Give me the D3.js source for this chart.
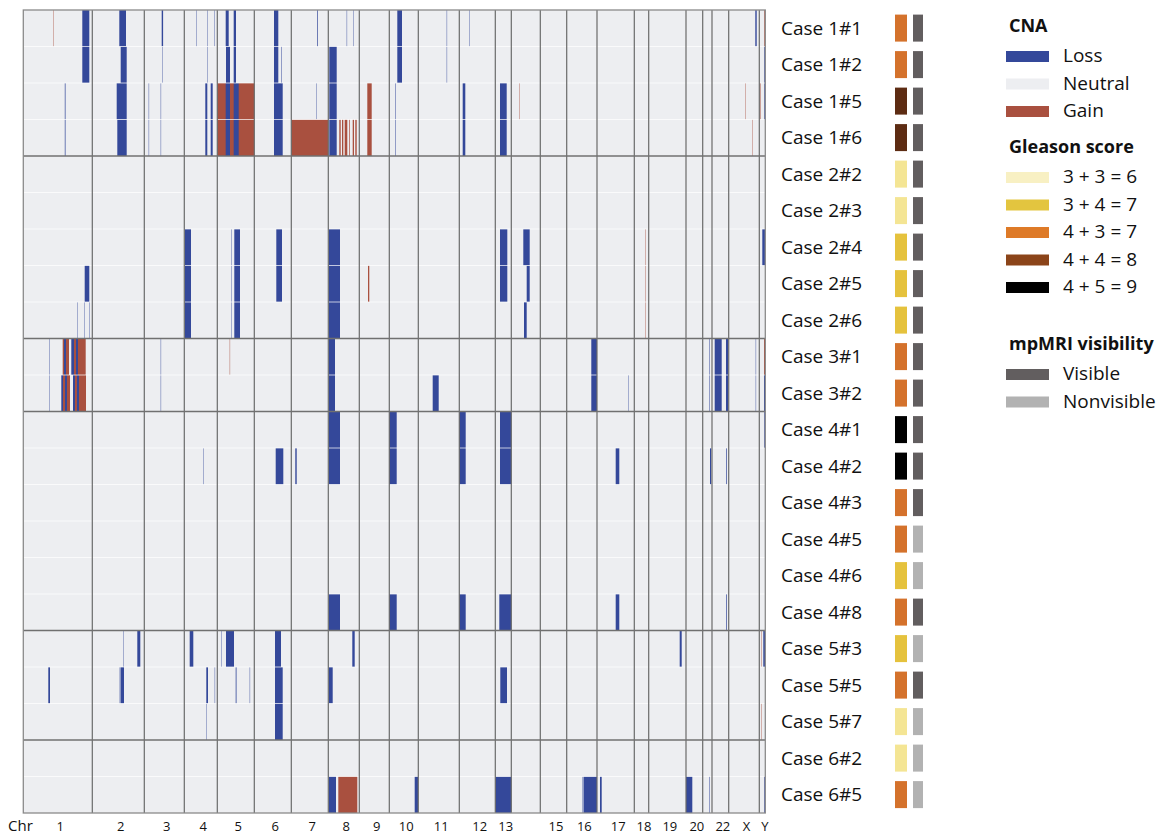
<!DOCTYPE html>
<html>
<head>
<meta charset="utf-8">
<script src="https://cdn.jsdelivr.net/npm/d3@7"></script>
<style>
  body { margin: 0; background: #fff; }
  text { font-family: "Open Sans", sans-serif; fill: #111; }
</style>
</head>
<body>
<div id="chart"></div>
<script>
// ---- data ----
const cases = ["Case 1#1", "Case 1#2", "Case 1#5", "Case 1#6",
  "Case 2#2", "Case 2#3", "Case 2#4", "Case 2#5", "Case 2#6",
  "Case 3#1", "Case 3#2",
  "Case 4#1", "Case 4#2", "Case 4#3", "Case 4#5", "Case 4#6", "Case 4#8",
  "Case 5#3", "Case 5#5", "Case 5#7",
  "Case 6#2", "Case 6#5"];
const gleason = ["4+3", "4+3", "4+4", "4+4",
  "3+3", "3+3", "3+4", "3+4", "3+4",
  "4+3", "4+3",
  "4+5", "4+5", "4+3", "4+3", "3+4", "4+3",
  "3+4", "4+3", "3+3",
  "3+3", "4+3"];
const mri = ["Visible", "Visible", "Visible", "Visible",
  "Visible", "Visible", "Visible", "Visible", "Visible",
  "Visible", "Visible",
  "Visible", "Visible", "Visible", "Nonvisible", "Nonvisible", "Visible",
  "Nonvisible", "Visible", "Nonvisible",
  "Nonvisible", "Nonvisible"];

const chromosomes = ["1", "2", "3", "4", "5", "6", "7", "8", "9", "10", "11", "12",
  "13", "14", "15", "16", "17", "18", "19", "20", "21", "22", "X", "Y"];
const chrLengths = [69, 52, 40, 33, 37, 37, 37, 31, 30, 29, 41, 36,
  16, 29, 26.4, 30.3, 37.3, 14.4, 37.3, 16.7, 9.3, 16.7, 30.6, 6];
const chrHidden = ["14", "21"];

// [first row, last row, chromosome, start, end, call]  (L = loss, G = gain)
const segments = [
  [0, 0, "1", 30, 30.4, "G"], [0, 1, "1", 59, 66, "L"],
  [0, 0, "2", 27, 33.7, "L"], [1, 1, "2", 28.4, 34.4, "L"],
  [0, 0, "3", 17.4, 18.8, "L"], [1, 1, "3", 17.7, 18.1, "L"],
  [0, 0, "4", 11.7, 12.1, "L"], [0, 1, "4", 23, 23.4, "L"], [0, 0, "4", 29.7, 30.1, "L"],
  [0, 0, "5", 8.4, 11.4, "L"], [1, 1, "5", 8.7, 12.7, "L"], [0, 1, "5", 16.4, 18.7, "L"],
  [0, 1, "6", 19.7, 24, "L"], [1, 1, "6", 27.2, 27.7, "L"],
  [0, 0, "7", 26, 26.7, "L"],
  [0, 0, "8", 18.4, 18.8, "L"], [0, 0, "8", 25, 25.4, "L"], [1, 3, "8", 1, 8.4, "L"],
  [0, 1, "10", 8, 12.7, "L"], [0, 1, "11", 28.4, 28.8, "L"], [0, 0, "12", 10, 10.4, "L"],
  [0, 0, "X", 26.6, 28, "L"], [0, 0, "Y", 5, 6, "G"], [1, 2, "Y", 5, 6, "L"],

  [2, 3, "1", 41.5, 42.2, "L"], [2, 2, "2", 24.4, 34.4, "L"], [3, 3, "2", 25, 34.4, "L"],
  [2, 3, "3", 4.4, 4.8, "L"], [2, 3, "3", 16.4, 16.8, "L"],
  [2, 3, "4", 21, 23, "L"], [2, 3, "4", 26.4, 28.4, "L"],
  [2, 3, "5", 0, 37, "G"], [2, 3, "5", 8.4, 12.7, "L"], [2, 3, "5", 16.4, 21.4, "L"],
  [2, 3, "6", 19.7, 28.4, "L"], [2, 2, "7", 25.2, 25.6, "L"], [3, 3, "7", 0, 37, "G"],
  [3, 3, "8", 11, 12.4, "G"], [3, 3, "8", 13.7, 15, "G"], [3, 3, "8", 16.4, 19, "G"],
  [3, 3, "8", 21, 21.7, "G"], [3, 3, "8", 24.4, 25.7, "G"], [3, 3, "8", 27, 28.4, "G"],
  [2, 3, "9", 8, 12.4, "G"], [2, 3, "10", 6, 6.5, "L"], [2, 3, "12", 3.4, 6, "L"],
  [2, 3, "13", 4.7, 11.4, "L"], [2, 2, "14", 8, 8.4, "G"],
  [2, 2, "X", 16.6, 17, "G"], [3, 3, "X", 23.3, 23.7, "G"], [2, 2, "Y", 0.5, 1.2, "G"],

  [7, 7, "1", 61.4, 66, "L"], [8, 8, "1", 54, 54.4, "L"], [8, 8, "1", 60.7, 61.1, "L"],
  [8, 8, "1", 66, 66.4, "L"],
  [6, 8, "4", 0.7, 6.7, "L"], [6, 8, "5", 14, 14.4, "L"], [6, 8, "5", 17, 22.7, "L"],
  [6, 7, "6", 22, 27.7, "L"], [6, 8, "8", 0.7, 11.7, "L"], [7, 7, "9", 8.7, 10, "G"],
  [6, 7, "13", 4.7, 12, "L"], [6, 6, "14", 12, 18.4, "L"], [7, 7, "14", 15.4, 18.4, "L"],
  [8, 8, "14", 12.7, 15.4, "L"], [6, 8, "18", 11, 11.4, "G"], [6, 6, "Y", 3, 6, "L"],

  [9, 10, "1", 25.7, 26.1, "L"],
  [9, 9, "1", 39.4, 40.7, "G"], [9, 9, "1", 40.7, 42.7, "L"], [9, 9, "1", 42.7, 45.7, "G"],
  [9, 9, "1", 48, 50.7, "L"], [9, 9, "1", 50.7, 52.7, "G"], [9, 9, "1", 52.7, 54.7, "L"],
  [9, 9, "1", 54.7, 62.4, "G"],
  [10, 10, "1", 38, 39.7, "L"], [10, 10, "1", 39.7, 41.7, "G"], [10, 10, "1", 41.7, 43.7, "L"],
  [10, 10, "1", 43.7, 46.7, "G"], [10, 10, "1", 49.7, 51.7, "L"], [10, 10, "1", 51.7, 53.7, "G"],
  [10, 10, "1", 53.7, 55.7, "L"], [10, 10, "1", 55.7, 62.7, "G"],
  [9, 10, "3", 16.4, 16.8, "L"], [9, 9, "5", 12.4, 12.8, "G"], [9, 10, "8", 0.7, 6.7, "L"],
  [10, 10, "11", 14.4, 20.4, "L"], [9, 10, "16", 24.6, 30.3, "L"], [10, 10, "17", 31.3, 31.7, "L"],
  [9, 10, "21", 6.4, 6.9, "L"], [9, 10, "22", 2.7, 9.7, "L"], [9, 10, "22", 14, 16, "L"],
  [9, 10, "X", 27, 27.4, "L"], [9, 9, "Y", 4.7, 6, "G"], [10, 10, "Y", 4.7, 6, "L"],

  [11, 12, "8", 0.7, 11.7, "L"], [16, 16, "8", 0.7, 11.7, "L"],
  [11, 12, "10", 0, 7.4, "L"], [16, 16, "10", 0, 7.4, "L"],
  [11, 12, "12", 0, 6.4, "L"], [16, 16, "12", 0, 6.4, "L"],
  [11, 12, "13", 4.7, 16, "L"], [16, 16, "13", 4, 16, "L"], [11, 11, "Y", 5, 6, "L"],
  [12, 12, "4", 19, 19.4, "L"], [12, 12, "6", 21.4, 29, "L"], [12, 12, "7", 4, 5.4, "L"],
  [12, 12, "17", 18.7, 22.3, "L"], [16, 16, "17", 18.7, 22.3, "L"],
  [12, 12, "21", 7.3, 8.5, "L"], [12, 12, "22", 14, 14.7, "L"], [16, 16, "22", 14, 14.7, "L"],

  [17, 17, "2", 31, 31.4, "L"], [17, 17, "2", 45, 48, "L"], [17, 17, "4", 5.4, 9, "L"],
  [17, 17, "5", 4, 4.4, "L"], [17, 17, "5", 8.7, 16.7, "L"], [17, 17, "6", 20.7, 26.7, "L"],
  [18, 19, "6", 20.7, 28.4, "L"], [17, 17, "8", 24, 26.4, "L"], [17, 17, "19", 31, 33, "L"],
  [17, 17, "Y", 2, 2.4, "G"], [19, 19, "Y", 2, 2.4, "G"], [17, 17, "Y", 4, 6, "L"],
  [18, 18, "1", 25, 26.7, "L"], [18, 18, "2", 27.4, 28, "L"], [18, 18, "2", 28.4, 31.7, "L"],
  [18, 18, "4", 22, 23.7, "L"], [18, 18, "4", 30.4, 30.8, "L"], [18, 18, "5", 18.4, 19.2, "L"],
  [18, 18, "5", 32.4, 32.8, "L"], [18, 18, "8", 0.7, 4.4, "L"], [18, 18, "13", 5, 11.7, "L"],
  [19, 19, "4", 22, 22.4, "L"],

  [21, 21, "8", 0.7, 7.7, "L"], [21, 21, "8", 10, 29, "G"], [21, 21, "10", 25.4, 28.7, "L"],
  [21, 21, "13", 0, 16, "L"], [21, 21, "16", 15.5, 15.9, "L"], [21, 21, "16", 16.8, 30.3, "L"],
  [21, 21, "17", 3, 4.7, "L"], [21, 21, "20", 0, 6.3, "L"], [21, 21, "21", 6.4, 6.9, "L"],
  [21, 21, "Y", 5, 6, "L"]
];

const cnaLegend = ["Loss", "Neutral", "Gain"];
const gleasonKeys = ["3+3", "3+4", "4+3", "4+4", "4+5"];
const gleasonLabels = ["3 + 3 = 6", "3 + 4 = 7", "4 + 3 = 7", "4 + 4 = 8", "4 + 5 = 9"];
const mriLegend = ["Visible", "Nonvisible"];

// ---- layout ----
const width = 1167, height = 837;
const svg = d3.select("#chart").append("svg")
  .attr("width", width).attr("height", height);

const chrStart = [0, ...d3.cumsum(chrLengths)].slice(0, chromosomes.length);
const offset = new Map(chromosomes.map((c, i) => [c, chrStart[i]]));

const x = d3.scaleLinear()
  .domain([0, d3.sum(chrLengths)])
  .range([23.3, 765.3]);
const y = d3.scaleBand()
  .domain(cases)
  .range([10, 813]);

const cnaColor = d3.scaleOrdinal().domain(["L", "N", "G"]).range(["#34489a", "#edeef1", "#a9503f"]);
const rowGleasonColor = d3.scaleOrdinal().domain(gleasonKeys)
  .range(["#f4e594", "#e5c23d", "#d4722c", "#5d2c13", "#000000"]);
const legendGleasonColor = d3.scaleOrdinal().domain(gleasonKeys)
  .range(["#f8f0c3", "#e3c53f", "#de7a27", "#8b4419", "#000000"]);
const mriColor = d3.scaleOrdinal().domain(mriLegend).range(["#625e5f", "#b2b2b2"]);

const group = c => c.split("#")[0];

// neutral background
svg.append("rect")
  .attr("x", x(0)).attr("y", y.range()[0])
  .attr("width", x(d3.sum(chrLengths)) - x(0))
  .attr("height", y.range()[1] - y.range()[0])
  .attr("fill", cnaColor("N"));

// CNA segments
svg.append("g").selectAll("rect")
  .data(segments)
  .enter()
  .append("rect")
  .attr("x", d => x(offset.get(d[2]) + d[3]))
  .attr("width", d => x(offset.get(d[2]) + d[4]) - x(offset.get(d[2]) + d[3]))
  .attr("y", d => y(cases[d[0]]))
  .attr("height", d => y(cases[d[1]]) + y.bandwidth() - y(cases[d[0]]))
  .attr("fill", d => cnaColor(d[5]));

// light separators between samples of one case
svg.append("g").selectAll("line")
  .data(cases.filter((c, i) => i > 0 && group(c) === group(cases[i - 1])))
  .enter()
  .append("line")
  .attr("x1", x(0)).attr("x2", x(d3.sum(chrLengths)))
  .attr("y1", d => y(d)).attr("y2", d => y(d))
  .attr("stroke", "#ffffff").attr("stroke-opacity", 0.7).attr("stroke-width", 1);

// chromosome boundaries
svg.append("g").selectAll("line")
  .data(chrStart.slice(1))
  .enter()
  .append("line")
  .attr("x1", d => x(d)).attr("x2", d => x(d))
  .attr("y1", y.range()[0]).attr("y2", y.range()[1])
  .attr("stroke", "#6a6a6a").attr("stroke-width", 1.2);

// case boundaries
svg.append("g").selectAll("line")
  .data(cases.filter((c, i) => i > 0 && group(c) !== group(cases[i - 1])))
  .enter()
  .append("line")
  .attr("x1", x(0)).attr("x2", x(d3.sum(chrLengths)))
  .attr("y1", d => y(d)).attr("y2", d => y(d))
  .attr("stroke", "#707070").attr("stroke-width", 1.5);

svg.append("rect")
  .attr("x", x(0)).attr("y", y.range()[0])
  .attr("width", x(d3.sum(chrLengths)) - x(0))
  .attr("height", y.range()[1] - y.range()[0])
  .attr("fill", "none").attr("stroke", "#8a8a8a").attr("stroke-width", 1.3);

// chromosome axis
const centers = chromosomes.map((c, i) => chrStart[i] + chrLengths[i] / 2);
const xAxis = svg.append("g")
  .attr("transform", "translate(2," + y.range()[1] + ")")
  .call(d3.axisBottom(x)
    .tickValues(centers)
    .tickSize(0)
    .tickPadding(9)
    .tickFormat((d, i) => chrHidden.includes(chromosomes[i]) ? "" : chromosomes[i]));
xAxis.select(".domain").remove();
xAxis.selectAll("text")
  .style("font-family", "'Open Sans', sans-serif")
  .style("font-size", "13px")
  .attr("fill", "#111");

svg.append("text")
  .attr("x", 8).attr("y", 831)
  .style("font-size", "15px")
  .text("Chr");

// case labels and annotation boxes
svg.append("g").selectAll("text")
  .data(cases)
  .enter()
  .append("text")
  .attr("x", 781)
  .attr("y", d => y(d) + y.bandwidth() / 2 + 6.5)
  .style("font-size", "19px")
  .text(d => d);

svg.append("g").selectAll("rect")
  .data(cases)
  .enter()
  .append("rect")
  .attr("x", 895).attr("width", 12)
  .attr("y", d => y(d) + 4.6).attr("height", 27)
  .attr("fill", (d, i) => rowGleasonColor(gleason[i]));

svg.append("g").selectAll("rect")
  .data(cases)
  .enter()
  .append("rect")
  .attr("x", 913).attr("width", 10)
  .attr("y", d => y(d) + 4.6).attr("height", 27)
  .attr("fill", (d, i) => mriColor(mri[i]));

// legend
const legend = svg.append("g").attr("transform", "translate(1006,0)");
const step = 27.5;

function legendBlock(title, titleY, labels, colors) {
  legend.append("text")
    .attr("x", 3).attr("y", titleY)
    .style("font-size", "18px").style("font-weight", "bold")
    .text(title);
  const items = legend.append("g").selectAll("g")
    .data(labels)
    .enter()
    .append("g")
    .attr("transform", (d, i) => "translate(0," + (titleY + 30 + i * step) + ")");
  items.append("rect")
    .attr("x", 0).attr("y", -11).attr("width", 43).attr("height", 11)
    .attr("fill", (d, i) => colors[i]);
  items.append("text")
    .attr("x", 57).attr("y", 0)
    .style("font-size", "19px")
    .text(d => d);
}

legendBlock("CNA", 32, cnaLegend, ["L", "N", "G"].map(cnaColor));
legendBlock("Gleason score", 153, gleasonLabels, gleasonKeys.map(legendGleasonColor));
legendBlock("mpMRI visibility", 350, mriLegend, mriLegend.map(mriColor));
</script>
</body>
</html>
